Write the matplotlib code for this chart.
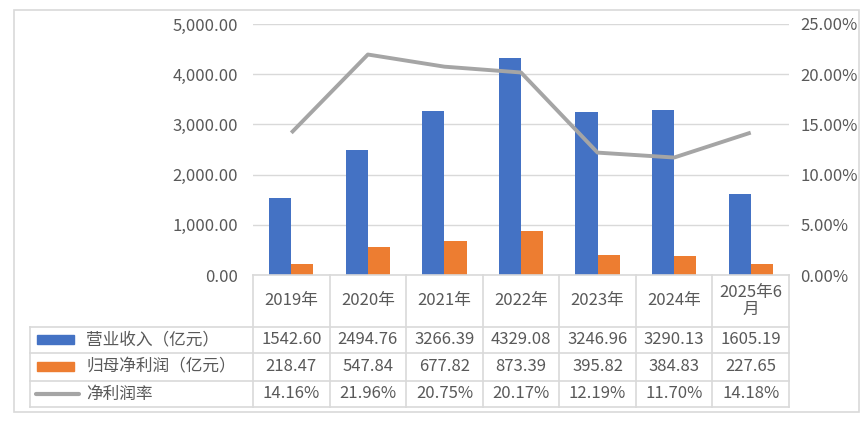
import matplotlib.pyplot as plt
from matplotlib.patches import Rectangle

plt.rcParams['font.family'] = ['Noto Sans CJK SC', 'DejaVu Sans']

# 数据
年份 = ['2019年', '2020年', '2021年', '2022年', '2023年', '2024年', '2025年6\n月']
营业收入 = [1542.60, 2494.76, 3266.39, 4329.08, 3246.96, 3290.13, 1605.19]
归母净利润 = [218.47, 547.84, 677.82, 873.39, 395.82, 384.83, 227.65]
净利润率 = [14.16, 21.96, 20.75, 20.17, 12.19, 11.70, 14.18]
系列名 = ['营业收入（亿元）', '归母净利润（亿元）', '净利润率']

蓝 = '#4472C4'
橙 = '#ED7D31'
灰 = '#A5A5A5'
文字色 = '#595959'
线色 = '#D9D9D9'

W, H = 865, 421
fig = plt.figure(figsize=(W / 100, H / 100), dpi=100)

def fx(px):
    return px / W

def fy(py):
    return 1 - py / H

# 外框
fig.patches.append(Rectangle((fx(14), fy(412)), fx(859) - fx(14), fy(10) - fy(412),
                             transform=fig.transFigure, fill=False, ec=线色, lw=1.2))

# 主图
x0, x1, y_top, y_bot = 253, 789, 24, 275
ax = fig.add_axes([fx(x0), fy(y_bot), fx(x1) - fx(x0), fy(y_top) - fy(y_bot)])
n = len(年份)
xs = list(range(n))
w = 0.29
ax.bar([x - w / 2 for x in xs], 营业收入, width=w, color=蓝, zorder=3)
ax.bar([x + w / 2 for x in xs], 归母净利润, width=w, color=橙, zorder=3)
ax.set_xlim(-0.5, n - 0.5)
ax.set_ylim(0, 5000)
ax.set_yticks(range(0, 5001, 1000))
ax.set_yticklabels([f'{v:,.2f}' for v in range(0, 5001, 1000)])
ax.grid(axis='y', color=线色, lw=1, zorder=0)
ax.set_xticks([])
for s in ax.spines.values():
    s.set_visible(False)
ax.tick_params(axis='y', length=0, pad=11, labelsize=12, labelcolor=文字色)

ax2 = ax.twinx()
ax2.plot(xs, [v / 100 for v in 净利润率], color=灰, lw=2.8, solid_capstyle='butt', zorder=4)
ax2.set_ylim(0, 0.25)
ax2.set_yticks([i * 0.05 for i in range(6)])
ax2.set_yticklabels([f'{i * 5:.2f}%' for i in range(6)])
for s in ax2.spines.values():
    s.set_visible(False)
ax2.tick_params(axis='y', length=0, pad=8, labelsize=12, labelcolor=文字色)

# 数据表
tx0, ty0, ty1 = 30, 275, 407
tab = fig.add_axes([fx(tx0), fy(ty1), fx(x1) - fx(tx0), fy(ty0) - fy(ty1)])
tab.set_xlim(tx0, x1)
tab.set_ylim(ty1, ty0)
tab.axis('off')
cw = (x1 - x0) / n
rows = [275, 327, 353, 381, 407]
lk = dict(color=线色, lw=1.2, clip_on=False)
for i in range(n + 1):
    tab.plot([x0 + i * cw] * 2, [rows[0], rows[-1]], **lk)
tab.plot([tx0, tx0], [rows[1], rows[-1]], **lk)
tab.plot([x0, x1], [rows[0]] * 2, **lk)
for r in rows[1:]:
    tab.plot([tx0, x1], [r, r], **lk)

fs = 12
for i, lab in enumerate(年份):
    cx = x0 + (i + 0.5) * cw
    tab.text(cx, (rows[0] + rows[1]) / 2, lab, ha='center', va='center',
             fontsize=fs, color=文字色, linespacing=1.05)
    tab.text(cx, (rows[1] + rows[2]) / 2, f'{营业收入[i]:.2f}', ha='center', va='center',
             fontsize=fs, color=文字色)
    tab.text(cx, (rows[2] + rows[3]) / 2, f'{归母净利润[i]:.2f}', ha='center', va='center',
             fontsize=fs, color=文字色)
    tab.text(cx, (rows[3] + rows[4]) / 2, f'{净利润率[i]:.2f}%', ha='center', va='center',
             fontsize=fs, color=文字色)

# 图例键
for j, (nm, c) in enumerate(zip(系列名, [蓝, 橙, 灰])):
    cy = (rows[j + 1] + rows[j + 2]) / 2
    if j < 2:
        tab.add_patch(Rectangle((37, cy - 4.5), 37, 9, color=c))
    else:
        tab.plot([36, 79], [cy, cy], color=c, lw=3, solid_capstyle='round')
    tab.text(86, cy, nm, ha='left', va='center', fontsize=fs, color=文字色)

fig.savefig('out.png', dpi=100)
